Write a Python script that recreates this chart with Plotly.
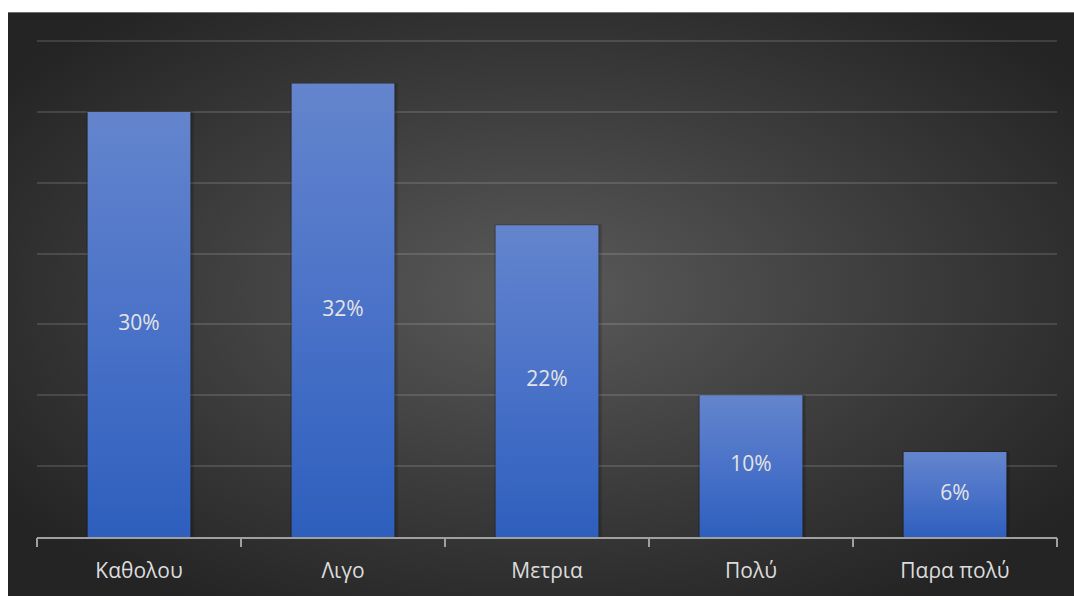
import base64
import plotly.graph_objects as go

# Survey answers and their shares (%)
categories = ["Καθολου", "Λιγο", "Μετρια", "Πολύ", "Παρα πολύ"]
shares = [30, 32, 22, 10, 6]
value_labels = ["30%", "32%", "22%", "10%", "6%"]
grid_values = [5, 10, 15, 20, 25, 30, 35]

W, H = 1074, 596
y_top = 35.5
plot_l, plot_r, plot_b = 37, 1057, 540
px_per_unit = (540 - 41) / 35
plot_t = round(41 - (y_top - 35) * px_per_unit)
positions = list(range(len(categories)))
bar_half = 0.252
font_family = "Open Sans, Noto Sans, sans-serif"

fig = go.Figure()

# Gradient-filled bars (one closed polygon per category)
for pos, val in zip(positions, shares):
    x0, x1 = pos - bar_half, pos + bar_half
    # soft shadow around the bar
    for k, a in ((0.018, 0.10), (0.010, 0.14)):
        fig.add_trace(go.Scatter(
            x=[x0 - k * 0.4, x1 + k, x1 + k, x0 - k * 0.4, x0 - k * 0.4],
            y=[0, 0, val + 0.05, val + 0.05, 0],
            mode="lines", line=dict(width=0), fill="toself",
            fillcolor=f"rgba(0,0,0,{a})", hoverinfo="skip", showlegend=False,
        ))
    fig.add_trace(go.Scatter(
        x=[x0, x1, x1, x0, x0],
        y=[0, 0, val, val, 0],
        mode="lines", line=dict(width=0),
        fill="toself",
        fillgradient=dict(
            type="vertical",
            colorscale=[[0, "#2e5fbd"], [0.5, "#4a72c8"], [1, "#6485cd"]],
        ),
        name=categories[pos], hoverinfo="skip", showlegend=False,
    ))

# Value labels centred inside each bar
fig.add_trace(go.Scatter(
    x=positions, y=[v / 2 for v in shares],
    mode="text", text=value_labels,
    textfont=dict(family=font_family, size=21, color="#e4e4e4"),
    hoverinfo="skip", showlegend=False,
))

# Carrier for the boundary tick marks on the overlay axis
fig.add_trace(go.Scatter(
    x=[-0.5, 4.5], y=[0, 0], xaxis="x2", mode="markers",
    marker=dict(opacity=0), hoverinfo="skip", showlegend=False,
))

# Dark panel with a soft radial glow
svg = f"""<svg xmlns='http://www.w3.org/2000/svg' width='{W - 8}' height='{H - 12}'>
<defs><radialGradient id='g' cx='50%' cy='48%' r='62%'>
<stop offset='0%' stop-color='#5a5a5a'/>
<stop offset='55%' stop-color='#3c3c3c'/>
<stop offset='100%' stop-color='#242424'/>
</radialGradient></defs>
<rect width='100%' height='100%' fill='url(#g)'/></svg>"""
svg_uri = "data:image/svg+xml;base64," + base64.b64encode(svg.encode()).decode()

pw, ph = plot_r - plot_l, plot_b - plot_t
fig.add_layout_image(dict(
    source=svg_uri, xref="paper", yref="paper",
    x=(8 - plot_l) / pw, y=(plot_b - 12) / ph,
    sizex=(W + 4 - 8) / pw, sizey=(H + 4 - 12) / ph,
    xanchor="left", yanchor="top", sizing="stretch", layer="below",
))

axis_color = "#a0a0a0"
fig.update_layout(
    width=W, height=H,
    margin=dict(l=plot_l, r=W - plot_r, t=plot_t, b=H - plot_b),
    paper_bgcolor="white", plot_bgcolor="rgba(0,0,0,0)",
    xaxis=dict(
        range=[-0.5, 4.5], tickvals=positions, ticktext=categories,
        ticks="", showgrid=False, zeroline=False,
        showline=True, linecolor=axis_color, linewidth=2,
        tickfont=dict(family=font_family, size=21, color="#dcdcdc"),
        ticklabelstandoff=14, fixedrange=True,
    ),
    xaxis2=dict(
        overlaying="x", anchor="y", side="bottom",
        range=[-0.5, 4.5], tickvals=[p - 0.5 for p in positions] + [4.5],
        ticks="outside", ticklen=9, tickwidth=2, tickcolor=axis_color,
        showticklabels=False, showgrid=False, zeroline=False, showline=False,
    ),
    yaxis=dict(
        range=[0, y_top], tickvals=grid_values,
        showticklabels=False, ticks="",
        showgrid=True, gridcolor="rgba(255,255,255,0.13)", gridwidth=1.5,
        zeroline=False, showline=False, fixedrange=True,
    ),
    showlegend=False,
)

fig.write_html("out.html")
